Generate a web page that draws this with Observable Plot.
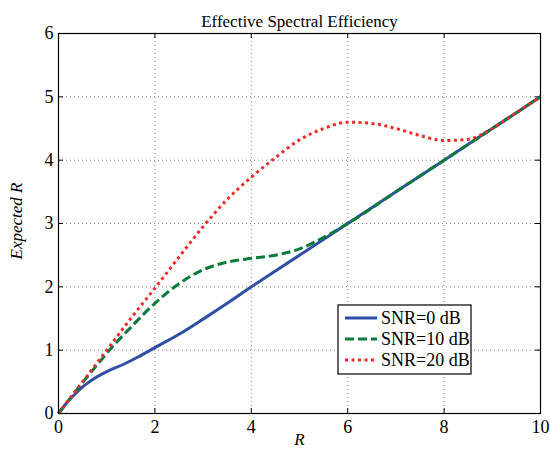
<!DOCTYPE html>
<html><head><meta charset="utf-8">
<script src="https://cdn.jsdelivr.net/npm/d3@7"></script>
<script src="https://cdn.jsdelivr.net/npm/@observablehq/plot@0.6"></script>
<style>body{margin:0;background:#fff}</style>
</head><body><div id="chart"></div>
<script>
const title = "Effective Spectral Efficiency";
const xLabel = "R";
const yLabel = "Expected R";
const xTicks = [0, 2, 4, 6, 8, 10];
const yTicks = [0, 1, 2, 3, 4, 5, 6];
const seriesNames = ["SNR=0 dB", "SNR=10 dB", "SNR=20 dB"];

const snr0X = [0, 0.15, 0.36, 0.5, 0.64, 1, 1.33, 1.67, 2, 2.5, 3, 3.5, 4, 5, 6, 7, 8, 9, 10];
const snr0Y = [0, 0.15, 0.32, 0.42, 0.5, 0.66, 0.77, 0.9, 1.04, 1.25, 1.49, 1.74, 2.0, 2.5, 3.0, 3.5, 4.0, 4.5, 5.0];

const snr10X = [0, 0.25, 0.5, 0.75, 1, 1.5, 2, 2.5, 3, 3.5, 4, 4.5, 5, 5.5, 6, 7, 8, 9, 10];
const snr10Y = [0, 0.25, 0.49, 0.72, 0.95, 1.36, 1.74, 2.05, 2.27, 2.39, 2.45, 2.5, 2.6, 2.78, 3.0, 3.5, 4.0, 4.5, 5.0];

const snr20X = [0, 0.5, 1, 1.5, 2, 2.5, 3, 3.5, 4, 4.5, 5, 5.5, 6, 6.5, 7, 7.5, 8, 8.5, 9, 9.5, 10];
const snr20Y = [0, 0.5, 1.0, 1.5, 1.98, 2.47, 2.95, 3.38, 3.73, 4.04, 4.32, 4.5, 4.6, 4.58, 4.5, 4.39, 4.31, 4.33, 4.5, 4.75, 5.0];

const colors = ["#2f4fa6", "#0b7a3b", "#ef2a2a"];
const dashes = [null, "9,4", "3,3.5"];

const toRows = (xs, ys, s) => xs.map((x, i) => ({x, y: ys[i], s}));
const series = [
  toRows(snr0X, snr0Y, seriesNames[0]),
  toRows(snr10X, snr10Y, seriesNames[1]),
  toRows(snr20X, snr20Y, seriesNames[2])
];

const W = 550, H = 456, mL = 58, mR = 10, mT = 33, mB = 43;
const innerH = H - mT - mB, innerW = W - mL - mR;
const font = "Liberation Serif";

const plot = Plot.plot({
  width: W, height: H,
  marginLeft: mL, marginRight: mR, marginTop: mT, marginBottom: mB,
  style: {fontFamily: font, fontSize: "16px", color: "#000", background: "#fff"},
  x: {domain: [0, 10], ticks: xTicks, label: null},
  y: {domain: [0, 6], ticks: yTicks, label: null},
  marks: [
    Plot.gridX(xTicks, {stroke: "#888", strokeOpacity: 1, strokeDasharray: "1,3"}),
    Plot.gridY(yTicks, {stroke: "#888", strokeOpacity: 1, strokeDasharray: "1,3"}),
    Plot.axisX(xTicks, {tickSize: 0, tickPadding: 7, fontSize: 18, fontFamily: font, tickFormat: d3.format("d"), label: null}),
    Plot.axisY(yTicks, {tickSize: 0, tickPadding: 5, fontSize: 18, fontFamily: font, tickFormat: d3.format("d"), label: null}),
    Plot.tickX(xTicks, {x: d => d, insetTop: innerH - 5, stroke: "#000"}),
    Plot.tickX(xTicks, {x: d => d, insetBottom: innerH - 5, stroke: "#000"}),
    Plot.tickY(yTicks, {y: d => d, insetRight: innerW - 5, stroke: "#000"}),
    Plot.tickY(yTicks, {y: d => d, insetLeft: innerW - 5, stroke: "#000"}),
    ...series.map((d, i) => Plot.line(d, {
      x: "x", y: "y", stroke: colors[i], strokeWidth: 3,
      strokeDasharray: dashes[i], strokeLinecap: "butt", curve: "monotone-x"
    })),
    Plot.frame({stroke: "#000", strokeWidth: 1.2}),
    Plot.text([title], {frameAnchor: "top", dy: -19, fontSize: 17, fontFamily: font, fill: "#000"}),
    Plot.text([xLabel], {frameAnchor: "bottom", dy: 31, fontSize: 17, fontFamily: font, fontStyle: "italic", fill: "#000"}),
    Plot.text([yLabel], {frameAnchor: "left", dx: -42, dy: 36, rotate: -90, fontSize: 17, fontFamily: font, fontStyle: "italic", fill: "#000"})
  ]
});

// Legend box
const svg = d3.select(plot);
const lg = svg.append("g").attr("transform", "translate(338,305)");
lg.append("rect").attr("width", 133).attr("height", 69).attr("fill", "#fff").attr("stroke", "#000").attr("stroke-width", 1.2);
seriesNames.forEach((name, i) => {
  const yy = 13 + i * 21;
  lg.append("line").attr("x1", 7).attr("x2", 39).attr("y1", yy).attr("y2", yy)
    .attr("stroke", colors[i]).attr("stroke-width", 3)
    .attr("stroke-dasharray", dashes[i]);
  lg.append("text").attr("x", 43).attr("y", yy).attr("dy", "0.35em")
    .attr("text-anchor", "start")
    .attr("font-size", 18).attr("fill", "#000").text(name);
});

svg.attr("font-family", font).style("font-family", font);
svg.selectAll("text, g").attr("font-family", font).style("font-family", font);

document.getElementById("chart").appendChild(plot);
</script>
</body></html>
